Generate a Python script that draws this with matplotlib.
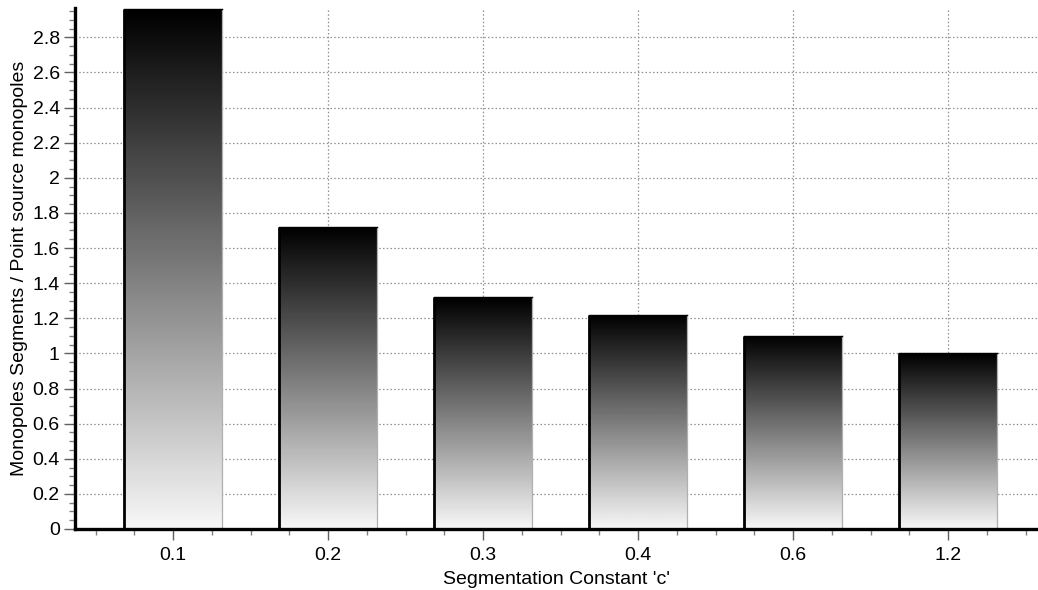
import matplotlib

matplotlib.use("Agg")
import matplotlib.pyplot as plt
import numpy as np
from matplotlib.ticker import MultipleLocator, FixedLocator

CATEGORIES = ["0.1", "0.2", "0.3", "0.4", "0.6", "1.2"]
RATIOS = [2.96, 1.72, 1.32, 1.22, 1.10, 1.00]
Y_TICKS = [0, 0.2, 0.4, 0.6, 0.8, 1, 1.2, 1.4, 1.6, 1.8, 2, 2.2, 2.4, 2.6, 2.8]
Y_TICK_LABELS = ["0", "0.2", "0.4", "0.6", "0.8", "1", "1.2", "1.4", "1.6",
                 "1.8", "2", "2.2", "2.4", "2.6", "2.8"]

plt.rcParams["font.family"] = ["Liberation Sans", "DejaVu Sans"]
plt.rcParams["font.size"] = 14

fig = plt.figure(figsize=(10.38, 5.90), dpi=100)
ax = fig.add_axes([0.0723, 0.1034, 0.9277, 0.883])

x = np.arange(len(CATEGORIES))
bars = ax.bar(x, RATIOS, width=0.63, color="none", edgecolor="none", zorder=2)

# vertical gradient, black at the top fading to near white at the base
grad = np.linspace(0.0, 0.97, 256).reshape(-1, 1)
for b in bars:
    x0, y0 = b.get_x(), b.get_y()
    w, h = b.get_width(), b.get_height()
    im = ax.imshow(grad, cmap="gray", vmin=0, vmax=1, aspect="auto",
                   origin="upper", extent=(x0, x0 + w, y0, y0 + h), zorder=2,
                   interpolation="bilinear")
    im.set_clip_path(b)
    ax.plot([x0 + w, x0 + w], [y0, y0 + h], color="#b0b0b0", lw=0.9, zorder=3)
    ax.plot([x0, x0 + w], [y0 + h, y0 + h], color="black", lw=1.0, zorder=3)
    ax.plot([x0, x0], [y0, y0 + h], color="black", lw=2.0, zorder=3,
            solid_capstyle="butt")

ax.set_xlim(-0.632, 5.58)
ax.set_ylim(0, 2.967)

ax.set_xticks(x)
ax.set_xticklabels(CATEGORIES)
ax.xaxis.set_minor_locator(FixedLocator(
    [v for v in np.arange(-0.5, 5.6, 0.25) if abs(v - round(v)) > 1e-6]))
ax.set_yticks(Y_TICKS)
ax.set_yticklabels(Y_TICK_LABELS)
ax.yaxis.set_minor_locator(MultipleLocator(0.05))

ax.tick_params(which="major", length=8, width=1, color="#606060", pad=3)
ax.tick_params(which="minor", length=4, width=1, color="#808080")
ax.tick_params(axis="x", which="major", pad=5)

ax.grid(True, which="major", color="#909090", linestyle=(0, (1.2, 1.8)),
        linewidth=0.9, zorder=0)
ax.set_axisbelow(True)

for side in ["top", "right"]:
    ax.spines[side].set_visible(False)
for side in ["left", "bottom"]:
    ax.spines[side].set_linewidth(2.4)
    ax.spines[side].set_zorder(4)

ax.set_xlabel("Segmentation Constant 'c'", labelpad=5)
ax.set_ylabel("Monopoles Segments / Point source monopoles", labelpad=3)

fig.savefig("out.png", dpi=100)
